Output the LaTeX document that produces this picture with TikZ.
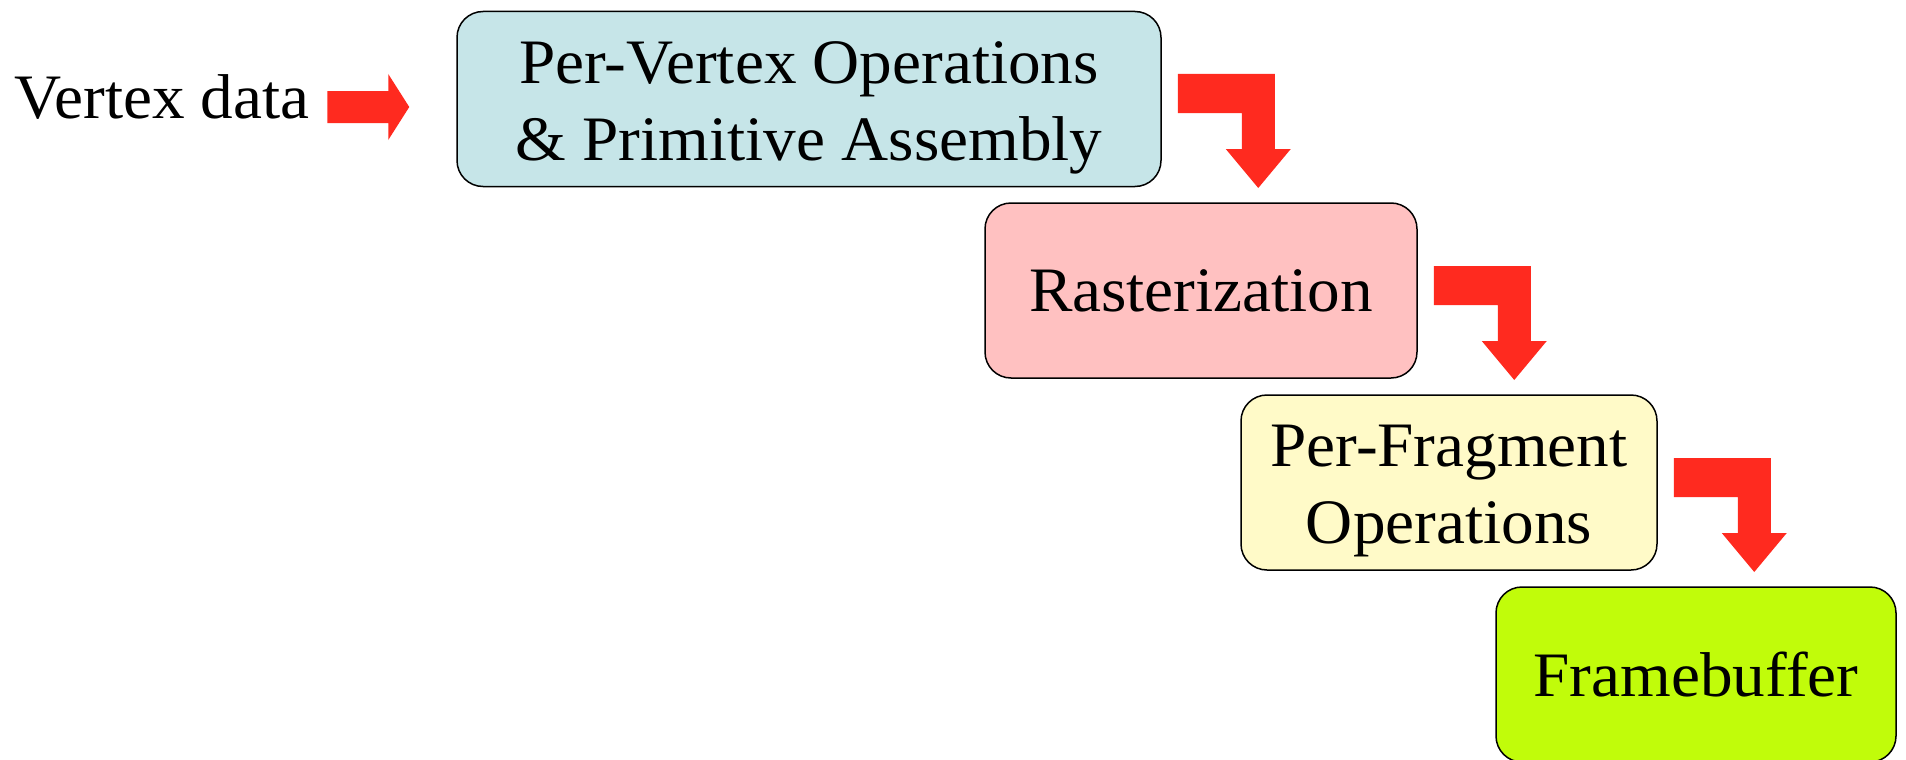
\documentclass[tikz,border=0pt]{standalone}
\usepackage{fontspec}
\setmainfont[FakeStretch=1.03]{Liberation Serif}
\definecolor{vertexblue}{RGB}{198,229,232}
\definecolor{rasterpink}{RGB}{255,193,193}
\definecolor{fragyellow}{RGB}{255,250,200}
\definecolor{fblime}{RGB}{193,252,10}
\definecolor{arrowred}{RGB}{255,42,31}
\begin{document}
\begin{tikzpicture}[x=1pt,y=-1pt,
  stagefont/.style={font=\fontsize{63.3}{77}\selectfont},
  stage/.style={draw=black, line width=1.5pt, rounded corners=26pt,
    minimum height=175pt, align=center, inner sep=0pt, stagefont},
  bent/.pic={\fill[arrowred] (0,0) -- (97,0) -- (97,75) -- (113,75)
    -- (80.5,114) -- (48,75) -- (64,75) -- (64,39) -- (0,39) -- cycle;},
  straight/.pic={\fill[arrowred] (0,0) -- (61,0) -- (61,-17) -- (82,16)
    -- (61,49) -- (61,32) -- (0,32) -- cycle;}
]
\useasboundingbox (0,0) rectangle (1906,760);

% pipeline stages
\node[stage, fill=vertexblue, minimum width=704pt] (pv) at (809,99)
  {\rule{0pt}{59pt}Per-Vertex Operations\\ \& Primitive Assembly};
\node[stage, fill=rasterpink, minimum width=432pt] (ras) at (1201,290.5)
  {Rasterization};
\node[stage, fill=fragyellow, minimum width=416pt] (pf) at (1449,482.5)
  {\rule{0pt}{59pt}Per-Fragment\\ Operations};
\node[stage, fill=fblime, minimum width=400pt] (fb) at (1696,674.5)
  {Framebuffer};

% input label
\node[stagefont, anchor=base, inner sep=0pt] (vd)
  at (162,118) {Vertex data};

% block arrows between the stages
\coordinate (in) at ([xshift=-129pt]pv.west |- 0,91);
\pic at (in) {straight};
\coordinate (s1) at ([xshift=16pt]pv.east |- 0,74);
\pic at (s1) {bent};
\coordinate (s2) at ([xshift=16pt]ras.east |- 0,266);
\pic at (s2) {bent};
\coordinate (s3) at ([xshift=16pt]pf.east |- 0,458);
\pic at (s3) {bent};
\end{tikzpicture}
\end{document}
